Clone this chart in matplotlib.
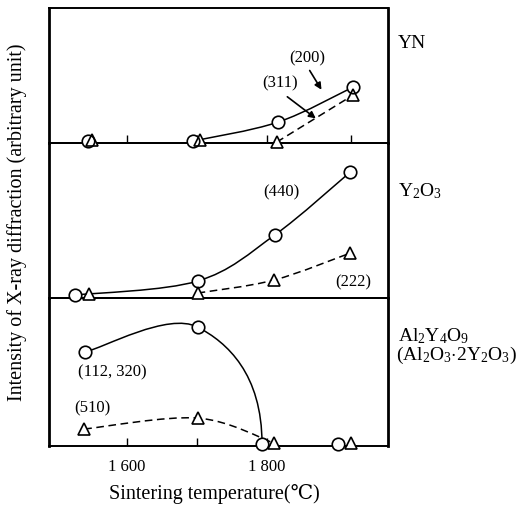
import numpy as np
import matplotlib.pyplot as plt
from matplotlib.path import Path
from matplotlib.patches import PathPatch

plt.rcParams['font.family'] = ['Liberation Serif', 'DejaVu Serif']
plt.rcParams['mathtext.fontset'] = 'custom'
plt.rcParams['mathtext.rm'] = 'Liberation Serif'
plt.rcParams['mathtext.it'] = 'Liberation Serif:italic'

# YN  (circle = (200), triangle = (311))
yn_circle_t = [1544, 1694, 1816, 1923]
yn_circle_i = [2, 2, 21, 56]
yn_tri_t = [1550, 1704, 1814, 1923]
yn_tri_i = [3, 3, 1, 48]

# Y2O3  (circle = (440), triangle = (222))
y2o3_circle_t = [1526, 1701, 1811, 1919]
y2o3_circle_i = [3, 17, 63, 126]
y2o3_tri_t = [1546, 1701, 1810, 1919]
y2o3_tri_i = [4, 5, 18, 45]

# Al2Y4O9  (circle = (112, 320), triangle = (510))
al_circle_t = [1540, 1701, 1793, 1901]
al_circle_i = [94, 119, 2, 2]
al_tri_t = [1539, 1701, 1810, 1920]
al_tri_i = [17, 28, 3, 3]

tick_pos = [1600, 1700, 1800, 1920]
tick_lab = ['1 600', '', '1 800', '']


def smooth_curve(ax, t, y, dashed=False, drop=False):
    # catmull-rom through the points, drawn as cubic bezier segments
    p = np.column_stack([t, y]).astype(float)
    p = np.vstack([p[0], p, p[-1]])
    verts = [p[1]]
    codes = [Path.MOVETO]
    for k in range(1, len(p) - 2):
        c1 = p[k] + (p[k + 1] - p[k - 1]) / 6
        c2 = p[k + 1] - (p[k + 2] - p[k]) / 6
        if drop and k == len(p) - 3:
            # falls almost straight down into the last point
            c2 = np.array([p[k + 1][0], p[k + 1][1] + 0.6 * (p[k][1] - p[k + 1][1])])
        verts += [c1, c2, p[k + 1]]
        codes += [Path.CURVE4] * 3
    ax.add_patch(PathPatch(Path(verts, codes), fill=False, lw=1.1,
                           ls=(0, (5, 3)) if dashed else '-', zorder=2))


def markers(ax, t, y, m):
    ax.plot(t, y, m, ms=9, mfc='white', mec='none', zorder=3, clip_on=False)
    ax.plot(t, y, m, ms=9, mfc='none', mec='black', mew=1.2, zorder=4,
            clip_on=False)


fig = plt.figure(figsize=(5.16, 5.08), dpi=100)
gs = fig.add_gridspec(3, 1, left=0.094, right=0.752, bottom=0.122, top=0.984,
                      hspace=0, height_ratios=[135, 155, 148])
ax1 = fig.add_subplot(gs[0])
ax2 = fig.add_subplot(gs[1], sharex=ax1)
ax3 = fig.add_subplot(gs[2], sharex=ax1)

for ax, h, z in zip([ax1, ax2, ax3], [135, 155, 148], [3, 2, 1]):
    ax.set_zorder(z)
    ax.patch.set_visible(False)
    ax.set_xlim(1488, 1973)
    ax.set_ylim(0, h)
    ax.set_yticks([])
    for s in ax.spines.values():
        s.set_linewidth(1.4)
    ax.spines['left'].set_linewidth(2)
    ax.spines['right'].set_linewidth(2)
    ax.set_xticks(tick_pos)
    ax.tick_params(axis='x', direction='in', length=6, width=1,
                   labelbottom=False)

ax2.tick_params(axis='x', length=0)
ax3.set_xticklabels(tick_lab)
ax3.tick_params(axis='x', labelbottom=True, labelsize=12, pad=9)

# YN
smooth_curve(ax1, yn_circle_t[1:], yn_circle_i[1:])
smooth_curve(ax1, yn_tri_t[2:], yn_tri_i[2:], dashed=True)
markers(ax1, yn_circle_t, yn_circle_i, 'o')
markers(ax1, yn_tri_t, yn_tri_i, '^')
ax1.text(1857, 85, '(200)', fontsize=12, ha='center', va='center')
ax1.text(1819, 60, '(311)', fontsize=12, ha='center', va='center')
ax1.annotate('', xy=(1880, 51), xytext=(1859, 75),
             arrowprops=dict(arrowstyle='-|>', lw=1.2, color='black',
                             mutation_scale=10))
ax1.annotate('', xy=(1873, 23), xytext=(1826, 48),
             arrowprops=dict(arrowstyle='-|>', lw=1.2, color='black',
                             mutation_scale=10))

# Y2O3
smooth_curve(ax2, y2o3_circle_t, y2o3_circle_i)
smooth_curve(ax2, y2o3_tri_t[1:], y2o3_tri_i[1:], dashed=True)
markers(ax2, y2o3_circle_t, y2o3_circle_i, 'o')
markers(ax2, y2o3_tri_t, y2o3_tri_i, '^')
ax2.text(1821, 106, '(440)', fontsize=12, ha='center', va='center')
ax2.text(1923, 16, '(222)', fontsize=12, ha='center', va='center')

# Al2Y4O9
smooth_curve(ax3, al_circle_t[:3], al_circle_i[:3], drop=True)
smooth_curve(ax3, al_tri_t[:3], al_tri_i[:3], dashed=True)
markers(ax3, al_circle_t, al_circle_i, 'o')
markers(ax3, al_tri_t, al_tri_i, '^')
ax3.text(1579, 74, '(112, 320)', fontsize=12, ha='center', va='center')
ax3.text(1551, 38, '(510)', fontsize=12, ha='center', va='center')

# phase names on the right
fig.text(0.771, 1 - 43 / 508, 'YN', fontsize=14, va='center')
fig.text(0.771, 1 - 191 / 508, r'Y$_2$O$_3$', fontsize=14, va='center')
fig.text(0.771, 1 - 336 / 508, r'Al$_2$Y$_4$O$_9$', fontsize=14, va='center')
fig.text(0.768, 1 - 355 / 508, r'(Al$_2$O$_3$$\cdot$2Y$_2$O$_3$)', fontsize=14,
         va='center')

fig.text(0.415, 1 - 494 / 508, 'Sintering temperature(℃)', fontsize=14.5,
         ha='center', va='center')
fig.text(0.034, 1 - 222 / 508, 'Intensity of X-ray diffraction (arbitrary unit)',
         fontsize=14.5, rotation=90, ha='center', va='center')

fig.savefig('out.png', dpi=100, facecolor='white')
